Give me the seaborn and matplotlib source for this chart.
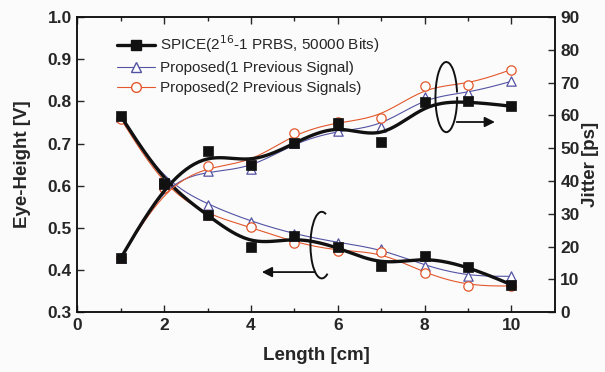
import numpy as np
import pandas as pd
import matplotlib
matplotlib.use("Agg")
import matplotlib.pyplot as plt
from matplotlib.patches import Arc
from matplotlib.lines import Line2D
import seaborn as sns

length_cm = [1, 2, 3, 4, 5, 6, 7, 8, 9, 10]

# eye height [V], left axis
eye_spice = [0.765, 0.606, 0.53, 0.454, 0.48, 0.455, 0.409, 0.432, 0.408, 0.365]
eye_prop1 = [0.762, 0.61, 0.555, 0.515, 0.485, 0.465, 0.45, 0.41, 0.385, 0.385]
eye_prop2 = [0.758, 0.595, 0.53, 0.502, 0.465, 0.445, 0.443, 0.392, 0.362, 0.362]

# jitter [ps], right axis
jit_spice = [16.5, 39.0, 49.1, 45.0, 51.6, 57.7, 52.0, 64.0, 64.3, 62.8]
jit_prop1 = [16.5, 39.3, 43.0, 43.8, 51.7, 55.4, 56.5, 65.6, 66.8, 70.4]
jit_prop2 = [16.5, 37.8, 44.5, 45.5, 54.6, 58.0, 59.3, 68.9, 69.4, 74.0]

labels = ["SPICE(2$^{16}$-1 PRBS, 50000 Bits)",
          "Proposed(1 Previous Signal)",
          "Proposed(2 Previous Signals)"]


def bspline(x, y, n=20):
    # clamped uniform cubic B-spline through the points as control points
    px = np.r_[[x[0]] * 2, x, [x[-1]] * 2].astype(float)
    py = np.r_[[y[0]] * 2, y, [y[-1]] * 2].astype(float)
    t = np.linspace(0, 1, n, endpoint=False)
    b0 = (1 - t) ** 3 / 6
    b1 = (3 * t ** 3 - 6 * t ** 2 + 4) / 6
    b2 = (-3 * t ** 3 + 3 * t ** 2 + 3 * t + 1) / 6
    b3 = t ** 3 / 6
    xs, ys = [], []
    for i in range(len(px) - 3):
        xs.append(b0 * px[i] + b1 * px[i + 1] + b2 * px[i + 2] + b3 * px[i + 3])
        ys.append(b0 * py[i] + b1 * py[i + 1] + b2 * py[i + 2] + b3 * py[i + 3])
    xs.append([px[-1]])
    ys.append([py[-1]])
    return np.concatenate(xs), np.concatenate(ys)


sns.set_style("ticks")
plt.rcParams["font.family"] = ["Liberation Sans", "DejaVu Sans"]

black = "#111111"
blue = "#5353a3"
orange = "#e2582c"

fig = plt.figure(figsize=(6.05, 3.72), dpi=100, facecolor="#fbfbfb")
ax = fig.add_axes([0.128, 0.161, 0.789, 0.793])
ax.set_facecolor("#fbfbfb")
ax2 = ax.twinx()

series = [
    (ax, eye_spice, eye_prop1, eye_prop2),
    (ax2, jit_spice, jit_prop1, jit_prop2),
]

for a, s0, s1, s2 in series:
    for vals, col, lw, mk, z in [
        (s1, blue, 0.8, "^", 3),
        (s2, orange, 0.8, "o", 4),
        (s0, black, 2.4, "s", 5),
    ]:
        cx, cy = bspline(length_cm, vals)
        sns.lineplot(x=cx, y=cy, ax=a, color=col, linewidth=lw, sort=False,
                     estimator=None, legend=False, zorder=z)
        df = pd.DataFrame({"x": length_cm, "y": vals})
        if mk == "s":
            sns.scatterplot(data=df, x="x", y="y", ax=a, marker="s", s=55,
                            color=black, edgecolor=black, linewidth=0.5,
                            legend=False, zorder=z + 1)
        else:
            sns.scatterplot(data=df, x="x", y="y", ax=a, marker=mk, s=45,
                            facecolor="white", edgecolor=col, linewidth=0.9,
                            legend=False, zorder=z + 1)

ax.set_xlim(0, 11)
ax.set_ylim(0.3, 1.0)
ax2.set_ylim(0, 90)
ax.set_xticks([0, 2, 4, 6, 8, 10])
ax.set_xticks([1, 3, 5, 7, 9], minor=True)
ax.set_yticks(np.arange(0.3, 1.01, 0.1))
ax.set_yticklabels([f"{v:.1f}" for v in np.arange(0.3, 1.01, 0.1)])
ax2.set_yticks(range(0, 91, 10))

for lab in ax.get_xticklabels() + ax.get_yticklabels() + ax2.get_yticklabels():
    lab.set_fontsize(12.5)
    lab.set_fontweight("bold")

ax.tick_params(axis="both", which="major", direction="in", length=5, width=1,
               top=True, pad=4)
ax.tick_params(axis="x", which="minor", direction="in", length=3, width=1, top=True)
ax2.tick_params(axis="y", direction="in", length=5, width=1, pad=4)
for a in (ax, ax2):
    for sp in a.spines.values():
        sp.set_linewidth(1.1)
        sp.set_color(black)

ax.set_xlabel("Length [cm]", fontsize=13.5, fontweight="bold", labelpad=10)
ax.set_ylabel("Eye-Height [V]", fontsize=13.5, fontweight="bold", labelpad=12)
ax2.set_ylabel("Jitter [ps]", fontsize=13.5, fontweight="bold", labelpad=2)

# loop-and-arrow markers pointing to each axis
ax.add_patch(Arc((5.63, 0.459), 0.52, 0.158, theta1=37, theta2=333,
                 color=black, linewidth=1.4, zorder=8))
ax.annotate("", xy=(4.25, 0.395), xytext=(5.48, 0.395),
            arrowprops=dict(arrowstyle="-|>", color=black, lw=1.3,
                            mutation_scale=15, shrinkA=0, shrinkB=0))
ax2.add_patch(Arc((8.5, 65.6), 0.5, 21.4, theta1=80, theta2=380,
                  color=black, linewidth=1.4, zorder=8))
ax2.annotate("", xy=(9.62, 58), xytext=(8.74, 58),
             arrowprops=dict(arrowstyle="-|>", color=black, lw=1.3,
                             mutation_scale=15, shrinkA=0, shrinkB=0))

handles = [
    Line2D([], [], color=black, lw=2.4, marker="s", ms=7),
    Line2D([], [], color=blue, lw=0.8, marker="^", ms=7, mfc="white", mec=blue),
    Line2D([], [], color=orange, lw=0.8, marker="o", ms=7, mfc="white", mec=orange),
]
ax2.legend(handles, labels, loc="upper left", bbox_to_anchor=(0.07, 0.965),
           frameon=False, fontsize=11, handlelength=2.5, handletextpad=0.3,
           labelspacing=0.4, borderaxespad=0)

fig.savefig("out.png", dpi=100, facecolor=fig.get_facecolor())
